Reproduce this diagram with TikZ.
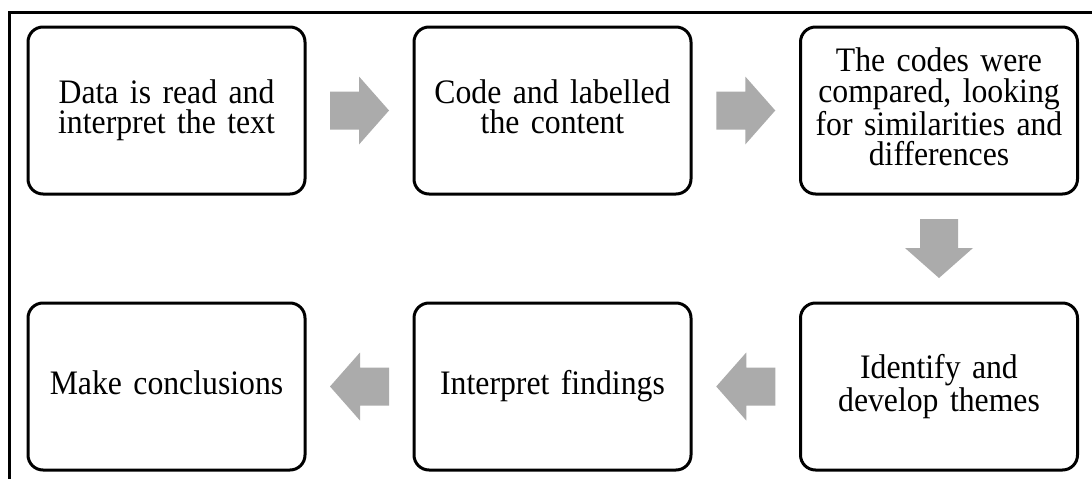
\documentclass[tikz,border=0pt]{standalone}
\usepackage{fontspec}
\setmainfont{Liberation Serif}[FakeStretch=0.925]
\usetikzlibrary{calc}
\definecolor{arrowgray}{HTML}{ABABAB}
\tikzset{
  stepbox/.style={draw=black, line width=3pt, rounded corners=15pt, fill=white,
    minimum width=277pt, minimum height=167pt, inner sep=0pt,
    text width=268pt, align=center,
    font=\fontsize{34.3pt}{30.5pt}\selectfont,
    execute at end node=\vphantom{p}},
  blockarrow/.pic={\fill[arrowgray] (-29.5,-19) -- (-0.5,-19) -- (-0.5,-34) -- (29.5,0)
      -- (-0.5,34) -- (-0.5,19) -- (-29.5,19) -- cycle;},
  frameline/.style={draw=black, line width=2.6pt}
}
\begin{document}
\begin{tikzpicture}[x=1pt,y=-1pt]
\useasboundingbox (0,0) rectangle (1092,479);
\fill[white] (0,0) rectangle (1092,479);
\coordinate (fbl) at (9.5,480);
\coordinate (ftl) at (9.5,12.5);
\coordinate (ftr) at (1093,12.5);
\draw[frameline] (fbl) -- (ftl) -- (ftr);

\node[stepbox] (a) at (166.5,110.5) {Data is read and\\interpret the text};
\node[stepbox] (b) at (552.5,110.5) {Code and labelled\\the content};
\node[stepbox] (c) at (939,110.5) {The codes were\\compared, looking\\for similarities and\\differences};
\node[stepbox] (f) at (939,386.5) {Identify and\\develop themes};
\node[stepbox] (e) at (552.5,386.5) {Interpret findings};
\node[stepbox] (d) at (166.5,386.5) {Make conclusions};

\pic at ($(a.east)!0.5!(b.west)$) {blockarrow};
\pic at ($(b.east)!0.5!(c.west)$) {blockarrow};
\pic[rotate=-90] at ($(c.south)!0.5!(f.north)$) {blockarrow};
\pic[rotate=180] at ($(f.west)!0.5!(e.east)$) {blockarrow};
\pic[rotate=180] at ($(e.west)!0.5!(d.east)$) {blockarrow};
\end{tikzpicture}
\end{document}
